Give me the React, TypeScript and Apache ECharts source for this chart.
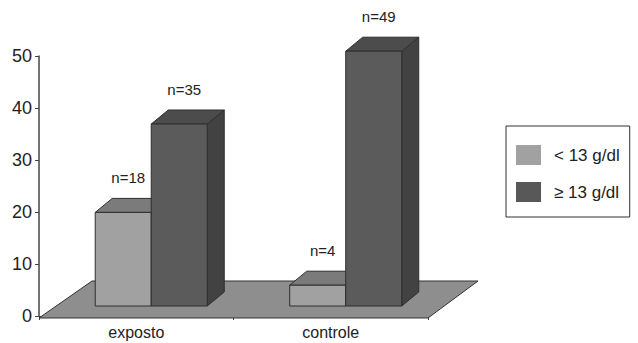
import React, { useEffect, useRef } from "react";
import * as echarts from "echarts";

const categories = ["exposto", "controle"];
const lowValues = [18, 4];
const highValues = [35, 49];
const seriesNames = ["< 13 g/dl", "≥ 13 g/dl"];
const yTicks = { min: 0, max: 50, interval: 10 };

const FONT = "Liberation Sans, Arial, sans-serif";

const palettes = [
  { front: "#a1a1a1", top: "#7b7b7b", side: "#6a6a6a" },
  { front: "#5b5b5b", top: "#4c4c4c", side: "#424242" },
];

function makeBarRender(sIdx: number) {
  return (params: any, api: any) => {
    const cat = api.value(0);
    const v = api.value(1);
    const c = api.coord([cat, v]);
    const c0 = api.coord([cat, 0]);
    const band = api.size([1, 0])[0];
    const w = band * 0.288;
    const shift = band * 0.077;
    const xL = c[0] + shift - w + sIdx * w;
    const xR = xL + w;
    const yb = c0[1] - 10;
    const yt = c[1] - 10;
    const dx = 17;
    const dy = -14;
    const p = palettes[sIdx];
    const stroke = { stroke: "#2e2e2e", lineWidth: 1 };
    return {
      type: "group",
      children: [
        {
          type: "polygon",
          shape: { points: [[xR, yt], [xR + dx, yt + dy], [xR + dx, yb + dy], [xR, yb]] },
          style: { fill: p.side, ...stroke },
        },
        {
          type: "polygon",
          shape: { points: [[xL, yt], [xR, yt], [xR + dx, yt + dy], [xL + dx, yt + dy]] },
          style: { fill: p.top, ...stroke },
        },
        {
          type: "rect",
          shape: { x: xL, y: yt, width: w, height: yb - yt },
          style: { fill: p.front, ...stroke },
        },
        {
          type: "text",
          style: {
            x: (xL + xR) / 2 + 5,
            y: yt - 35,
            text: `n=${v}`,
            fill: "#222",
            fontSize: 15,
            fontFamily: FONT,
            align: "center",
            verticalAlign: "middle",
          },
        },
      ],
    };
  };
}

function floorRender(params: any, api: any) {
  const c = api.coord([0, 0]);
  const band = api.size([1, 0])[0];
  const xs = c[0] - band / 2;
  const xe = xs + band * categories.length;
  const y0 = c[1];
  return {
    type: "polygon",
    shape: {
      points: [
        [xs, y0 + 2],
        [xe, y0 + 2],
        [xe + 50, y0 - 35],
        [xs + 53, y0 - 35],
      ],
    },
    style: { fill: "#8e8e8e", stroke: "#333", lineWidth: 1 },
  };
}

export default function App() {
  const ref = useRef<HTMLDivElement>(null);
  useEffect(() => {
    if (!ref.current) return;
    const chart = echarts.init(ref.current, null, { renderer: "svg" });
    chart.setOption({
      animation: false,
      backgroundColor: "#ffffff",
      grid: { left: 39, right: 210, top: 56, bottom: 27, containLabel: false },
      xAxis: {
        type: "category",
        data: categories,
        offset: 2,
        axisLine: { show: true, lineStyle: { color: "#444", width: 1 } },
        axisTick: { show: true, length: 4, lineStyle: { color: "#444" } },
        axisLabel: { fontSize: 16, color: "#222", fontFamily: FONT, margin: 6 },
        splitLine: { show: false },
      },
      yAxis: {
        type: "value",
        min: yTicks.min,
        max: yTicks.max,
        interval: yTicks.interval,
        axisLine: { show: true, lineStyle: { color: "#444", width: 1.5 } },
        axisTick: { show: true, length: 4, lineStyle: { color: "#444" } },
        axisLabel: { fontSize: 18, color: "#222", fontFamily: FONT, margin: 7 },
        splitLine: { show: false },
      },
      legend: {
        data: seriesNames,
        orient: "vertical",
        left: 506,
        top: 126,
        padding: [19, 10, 15, 10],
        itemGap: 17,
        itemWidth: 25,
        itemHeight: 20,
        icon: "rect",
        borderColor: "#333",
        borderWidth: 1,
        itemStyle: { borderWidth: 0 },
        textStyle: { fontSize: 17, color: "#222", fontFamily: FONT, padding: [0, 0, 0, 8] },
      },
      series: [
        {
          type: "custom",
          name: "floor",
          renderItem: floorRender,
          data: [[0, 0]],
          clip: false,
          z: 1,
          silent: true,
        },
        {
          type: "custom",
          name: seriesNames[0],
          renderItem: makeBarRender(0),
          data: categories.map((_, i) => [i, lowValues[i]]),
          encode: { x: 0, y: 1 },
          itemStyle: { color: "#a1a1a1" },
          clip: false,
          z: 2,
        },
        {
          type: "custom",
          name: seriesNames[1],
          renderItem: makeBarRender(1),
          data: categories.map((_, i) => [i, highValues[i]]),
          encode: { x: 0, y: 1 },
          itemStyle: { color: "#585858" },
          clip: false,
          z: 3,
        },
      ],
    });
    return () => chart.dispose();
  }, []);
  return (
    <div
      ref={ref}
      style={{ position: "absolute", left: 0, top: 0, width: 638, height: 343 }}
    />
  );
}
